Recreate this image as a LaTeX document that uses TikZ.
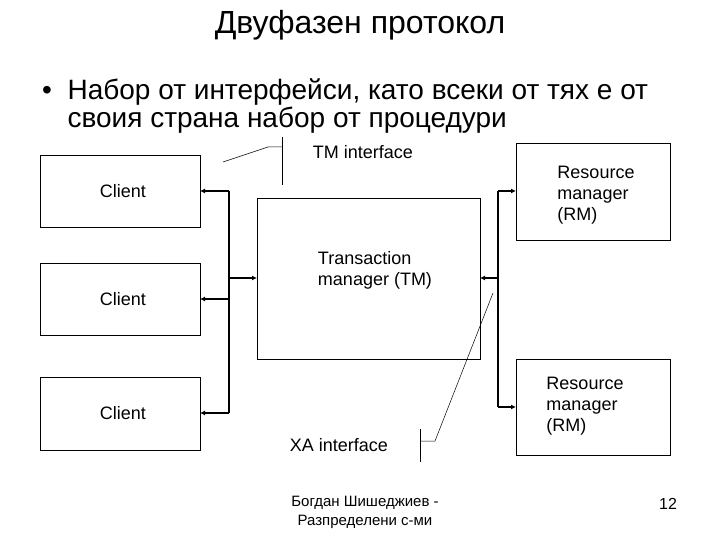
\documentclass[tikz,border=0pt]{standalone}
\usepackage{fontspec}
\setmainfont{Liberation Sans}
\usetikzlibrary{arrows.meta}
\begin{document}
\begin{tikzpicture}[x=1pt,y=-1pt,
 box/.style={draw,line width=0.6pt},
 bus/.style={line width=1.6pt},
 arr/.style={line width=1.6pt,-{Latex[length=5pt,width=5pt]}},
 lab/.style={font=\fontsize{18}{21}\selectfont,align=left,inner sep=0},
 thin/.style={line width=0.5pt}]
\useasboundingbox (0,0) rectangle (720,540);
\node (title) at (360,25) {\fontsize{32}{34}\selectfont Двуфазен протокол};
\node[anchor=west,align=left,inner sep=0] (bul) at (42,106) {\fontsize{28}{32}\selectfont •\ \ Набор от интерфейси, като всеки от тях е от\\\fontsize{28}{32}\selectfont \hphantom{•\ \ }своия страна набор от процедури};
\draw[box] (40,155) rectangle (200,227); \node[lab] (c1) at (123,191) {Client};
\draw[box] (40,263) rectangle (200,335); \node[lab] (c2) at (123,299) {Client};
\draw[box] (40,377) rectangle (200,450); \node[lab] (c3) at (123,413) {Client};
\draw[box] (257,198) rectangle (480,359); \node[lab] (tm) at (375,270) {Transaction\\manager (TM)};
\draw[box] (516,143) rectangle (670,240); \node[lab] (rm1) at (596,195) {Resource\\manager\\(RM)};
\draw[box] (516,359) rectangle (670,455); \node[lab] (rm2) at (585,406) {Resource\\manager\\(RM)};
\coordinate (lt) at (229,191); \coordinate (lb) at (229,413);
\coordinate (rt) at (498,191); \coordinate (rb) at (498,407);
\draw[bus] (lt) -- (lb);
\draw[bus] (rt) -- (rb);
\draw[arr] (229,191) -- (200,191);
\draw[arr] (229,299) -- (200,299);
\draw[arr] (229,413) -- (200,413);
\draw[arr] (229,278) -- (257,278);
\draw[arr] (498,278) -- (480,278);
\draw[arr] (498,191) -- (516,191);
\draw[arr] (498,407) -- (516,407);
\node[lab] (tmi) at (363,152) {TM interface};
\draw[thin] (223,162) -- (268,147) -- (282,147);
\draw[thin] (282,137) -- (282,185);
\node[lab] (xai) at (339,445) {XA interface};
\draw[thin] (493,293) -- (435,441) -- (420,441);
\draw[thin] (420,429) -- (420,462);
\node[align=center,font=\fontsize{15}{19}\selectfont] (ft) at (365,512) {Богдан Шишеджиев -\\Разпределени с-ми};
\node[font=\fontsize{16}{18}\selectfont] (pg) at (668,504) {12};
\end{tikzpicture}
\end{document}
